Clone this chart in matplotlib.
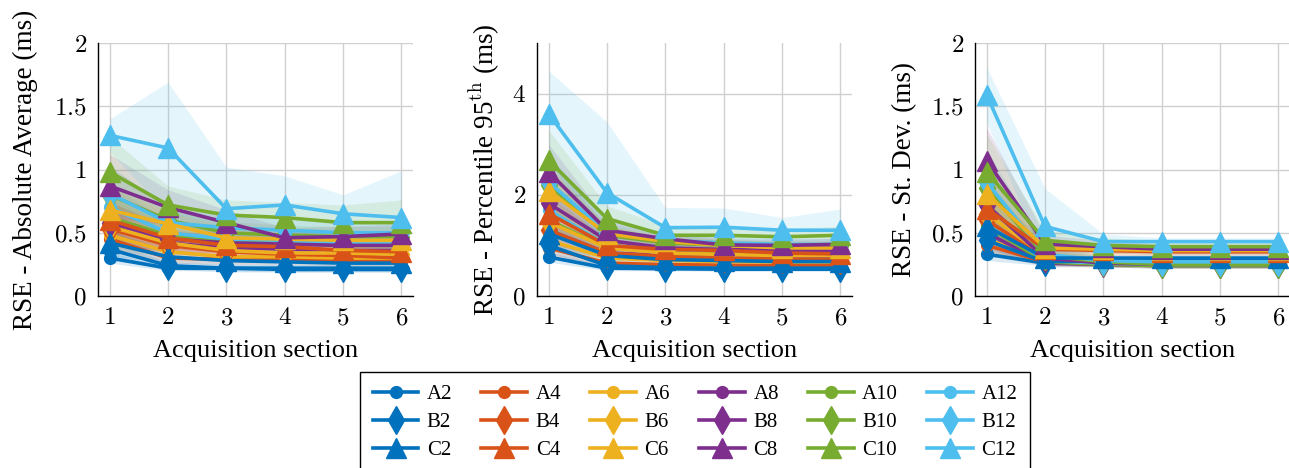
import matplotlib
matplotlib.use("Agg")
import matplotlib.pyplot as plt
from matplotlib.lines import Line2D

plt.rcParams['font.family'] = ['Liberation Serif', 'DejaVu Serif']
plt.rcParams['mathtext.fontset'] = 'cm'

sections = [1, 2, 3, 4, 5, 6]
series_names = ["A2", "A4", "A6", "A8", "A10", "A12",
                "B2", "B4", "B6", "B8", "B10", "B12",
                "C2", "C4", "C6", "C8", "C10", "C12"]

# ---- Panel 1: absolute average (mean) ----
abs_avg = {
    "A2": [0.30, 0.22, 0.22, 0.21, 0.21, 0.21],
    "B2": [0.37, 0.24, 0.22, 0.22, 0.22, 0.22],
    "C2": [0.42, 0.31, 0.28, 0.27, 0.26, 0.26],
    "A4": [0.45, 0.30, 0.29, 0.29, 0.28, 0.28],
    "B4": [0.53, 0.40, 0.35, 0.33, 0.32, 0.30],
    "C4": [0.60, 0.46, 0.40, 0.39, 0.36, 0.35],
    "A6": [0.48, 0.35, 0.31, 0.31, 0.30, 0.30],
    "B6": [0.55, 0.42, 0.36, 0.34, 0.34, 0.33],
    "C6": [0.68, 0.57, 0.46, 0.45, 0.44, 0.44],
    "A8": [0.55, 0.42, 0.38, 0.37, 0.36, 0.36],
    "B8": [0.58, 0.45, 0.42, 0.41, 0.40, 0.40],
    "C8": [0.87, 0.70, 0.58, 0.46, 0.47, 0.49],
    "A10": [0.62, 0.48, 0.44, 0.42, 0.40, 0.40],
    "B10": [0.80, 0.60, 0.50, 0.48, 0.47, 0.47],
    "C10": [0.98, 0.72, 0.64, 0.62, 0.58, 0.58],
    "A12": [0.70, 0.50, 0.45, 0.44, 0.42, 0.42],
    "B12": [0.81, 0.58, 0.54, 0.52, 0.50, 0.50],
    "C12": [1.27, 1.17, 0.69, 0.72, 0.65, 0.62],
}
abs_avg_band = {
    "A2": [0.04, 0.02, 0.02, 0.02, 0.02, 0.02],
    "B2": [0.06, 0.03, 0.03, 0.03, 0.03, 0.03],
    "C2": [0.10, 0.05, 0.04, 0.04, 0.04, 0.04],
    "A4": [0.08, 0.04, 0.04, 0.04, 0.04, 0.04],
    "B4": [0.12, 0.06, 0.05, 0.05, 0.05, 0.05],
    "C4": [0.15, 0.08, 0.06, 0.06, 0.06, 0.06],
    "A6": [0.10, 0.05, 0.04, 0.04, 0.04, 0.04],
    "B6": [0.14, 0.07, 0.06, 0.06, 0.06, 0.06],
    "C6": [0.18, 0.10, 0.08, 0.07, 0.07, 0.07],
    "A8": [0.14, 0.07, 0.06, 0.06, 0.06, 0.06],
    "B8": [0.16, 0.10, 0.08, 0.07, 0.07, 0.07],
    "C8": [0.25, 0.14, 0.10, 0.08, 0.08, 0.08],
    "A10": [0.16, 0.09, 0.07, 0.07, 0.07, 0.07],
    "B10": [0.22, 0.12, 0.09, 0.08, 0.08, 0.08],
    "C10": [0.28, 0.15, 0.12, 0.12, 0.14, 0.18],
    "A12": [0.18, 0.10, 0.08, 0.08, 0.08, 0.08],
    "B12": [0.22, 0.12, 0.09, 0.09, 0.09, 0.09],
    "C12": [0.13, 0.52, 0.33, 0.23, 0.15, 0.37],
}

# ---- Panel 2: 95th percentile ----
p95 = {
    "A2": [0.77, 0.55, 0.54, 0.53, 0.53, 0.53],
    "B2": [1.00, 0.60, 0.56, 0.55, 0.55, 0.55],
    "C2": [1.23, 0.80, 0.72, 0.70, 0.68, 0.68],
    "A4": [0.95, 0.65, 0.62, 0.61, 0.60, 0.60],
    "B4": [1.30, 0.85, 0.78, 0.75, 0.73, 0.72],
    "C4": [1.63, 1.00, 0.92, 0.90, 0.85, 0.83],
    "A6": [1.10, 0.75, 0.70, 0.68, 0.67, 0.67],
    "B6": [1.46, 0.95, 0.85, 0.82, 0.80, 0.80],
    "C6": [2.08, 1.23, 1.08, 1.00, 0.95, 0.95],
    "A8": [1.30, 0.85, 0.80, 0.78, 0.77, 0.77],
    "B8": [1.83, 1.10, 0.95, 0.92, 0.90, 0.90],
    "C8": [2.45, 1.30, 1.13, 1.01, 1.00, 1.02],
    "A10": [1.50, 0.95, 0.88, 0.85, 0.83, 0.83],
    "B10": [2.20, 1.20, 1.05, 1.00, 0.98, 0.98],
    "C10": [2.68, 1.53, 1.20, 1.20, 1.17, 1.20],
    "A12": [1.70, 1.00, 0.92, 0.90, 0.88, 0.88],
    "B12": [2.25, 1.25, 1.10, 1.05, 1.02, 1.02],
    "C12": [3.60, 2.04, 1.35, 1.36, 1.30, 1.30],
}
p95_band = {
    "A2": [0.10, 0.05, 0.04, 0.04, 0.04, 0.04],
    "B2": [0.15, 0.07, 0.05, 0.05, 0.05, 0.05],
    "C2": [0.22, 0.10, 0.07, 0.07, 0.07, 0.07],
    "A4": [0.15, 0.07, 0.05, 0.05, 0.05, 0.05],
    "B4": [0.25, 0.10, 0.08, 0.08, 0.08, 0.08],
    "C4": [0.35, 0.14, 0.10, 0.10, 0.10, 0.10],
    "A6": [0.20, 0.08, 0.06, 0.06, 0.06, 0.06],
    "B6": [0.30, 0.12, 0.09, 0.09, 0.09, 0.09],
    "C6": [0.45, 0.18, 0.12, 0.12, 0.12, 0.12],
    "A8": [0.25, 0.10, 0.08, 0.08, 0.08, 0.08],
    "B8": [0.40, 0.15, 0.10, 0.10, 0.10, 0.10],
    "C8": [0.55, 0.20, 0.13, 0.12, 0.12, 0.12],
    "A10": [0.30, 0.12, 0.09, 0.09, 0.09, 0.09],
    "B10": [0.50, 0.18, 0.12, 0.11, 0.11, 0.11],
    "C10": [0.60, 0.25, 0.20, 0.15, 0.15, 0.18],
    "A12": [0.35, 0.14, 0.10, 0.10, 0.10, 0.10],
    "B12": [0.55, 0.20, 0.14, 0.12, 0.12, 0.12],
    "C12": [0.85, 1.40, 0.40, 0.38, 0.25, 0.42],
}

# ---- Panel 3: standard deviation ----
std_dev = {
    "A2": [0.33, 0.26, 0.26, 0.26, 0.26, 0.26],
    "B2": [0.44, 0.27, 0.28, 0.28, 0.28, 0.28],
    "C2": [0.55, 0.30, 0.30, 0.30, 0.30, 0.30],
    "A4": [0.40, 0.27, 0.25, 0.25, 0.25, 0.25],
    "B4": [0.60, 0.30, 0.27, 0.26, 0.26, 0.26],
    "C4": [0.69, 0.37, 0.36, 0.35, 0.35, 0.35],
    "A6": [0.45, 0.28, 0.26, 0.26, 0.26, 0.26],
    "B6": [0.65, 0.32, 0.28, 0.27, 0.27, 0.27],
    "C6": [0.81, 0.38, 0.37, 0.36, 0.36, 0.36],
    "A8": [0.50, 0.26, 0.25, 0.24, 0.24, 0.24],
    "B8": [0.72, 0.30, 0.26, 0.25, 0.25, 0.25],
    "C8": [1.07, 0.41, 0.39, 0.37, 0.37, 0.37],
    "A10": [0.55, 0.27, 0.25, 0.24, 0.24, 0.24],
    "B10": [0.85, 0.32, 0.27, 0.25, 0.25, 0.25],
    "C10": [0.98, 0.44, 0.40, 0.39, 0.39, 0.39],
    "A12": [0.60, 0.28, 0.26, 0.25, 0.25, 0.25],
    "B12": [0.90, 0.33, 0.28, 0.27, 0.27, 0.27],
    "C12": [1.59, 0.55, 0.43, 0.43, 0.43, 0.43],
}
std_dev_band = {
    "A2": [0.05, 0.02, 0.02, 0.02, 0.02, 0.02],
    "B2": [0.08, 0.03, 0.02, 0.02, 0.02, 0.02],
    "C2": [0.12, 0.04, 0.03, 0.03, 0.03, 0.03],
    "A4": [0.08, 0.03, 0.02, 0.02, 0.02, 0.02],
    "B4": [0.14, 0.04, 0.03, 0.03, 0.03, 0.03],
    "C4": [0.18, 0.05, 0.04, 0.03, 0.03, 0.03],
    "A6": [0.10, 0.03, 0.02, 0.02, 0.02, 0.02],
    "B6": [0.16, 0.04, 0.03, 0.03, 0.03, 0.03],
    "C6": [0.22, 0.06, 0.04, 0.03, 0.03, 0.03],
    "A8": [0.12, 0.03, 0.02, 0.02, 0.02, 0.02],
    "B8": [0.18, 0.05, 0.03, 0.03, 0.03, 0.03],
    "C8": [0.26, 0.07, 0.05, 0.04, 0.04, 0.04],
    "A10": [0.14, 0.03, 0.02, 0.02, 0.02, 0.02],
    "B10": [0.22, 0.06, 0.04, 0.03, 0.03, 0.03],
    "C10": [0.30, 0.08, 0.06, 0.05, 0.05, 0.05],
    "A12": [0.15, 0.04, 0.03, 0.02, 0.02, 0.02],
    "B12": [0.25, 0.06, 0.04, 0.03, 0.03, 0.03],
    "C12": [0.22, 0.30, 0.06, 0.03, 0.03, 0.03],
}

group_colors = {"2": "#0072BD", "4": "#D95319", "6": "#EDB120",
                "8": "#7E2F8E", "10": "#77AC30", "12": "#4DBEEE"}
prefix_markers = {"A": "o", "B": "d", "C": "^"}
prefix_msize = {"A": 8.5, "B": 14, "C": 14}
LW = 2.6

W, H = 1289, 468
fig = plt.figure(figsize=(W / 100, H / 100), dpi=100)

# (data, band, axes left px, ylim, yticks, labels, ylabel, ylabel x (axes frac))
panels = [
    (abs_avg, abs_avg_band, 98, (0, 2), [0, 0.5, 1, 1.5, 2], ["0", "0.5", "1", "1.5", "2"],
     "RSE - Absolute Average (ms)", -0.189),
    (p95, p95_band, 537, (0, 5), [0, 2, 4], ["0", "2", "4"],
     "RSE - Percentile 95$^{\\mathrm{th}}$ (ms)", -0.112),
    (std_dev, std_dev_band, 975, (0, 2), [0, 0.5, 1, 1.5, 2], ["0", "0.5", "1", "1.5", "2"],
     "RSE - St. Dev. (ms)", -0.184),
]

for data, band, left_px, ylim, yticks, yticklabels, ylabel, lx in panels:
    ax = fig.add_axes([left_px / W, (H - 296) / H, 315 / W, 253 / H])
    for name in series_names:
        c = group_colors[name[1:]]
        m = data[name]
        b = band[name]
        lo = [mi - bi for mi, bi in zip(m, b)]
        hi = [mi + bi for mi, bi in zip(m, b)]
        ax.fill_between(sections, lo, hi, color=c, alpha=0.14, linewidth=0, zorder=1)
    for name in series_names:
        c = group_colors[name[1:]]
        ax.plot(sections, data[name], color=c, lw=LW,
                marker=prefix_markers[name[0]], ms=prefix_msize[name[0]],
                markeredgecolor=c, markerfacecolor=c, zorder=3, clip_on=False)
    ax.set_xlim(0.8, 6.2)
    ax.set_ylim(*ylim)
    ax.set_xticks(sections)
    ax.set_xticklabels(["$%d$" % s for s in sections])
    ax.set_yticks(yticks)
    ax.set_yticklabels(["$%s$" % t for t in yticklabels])
    ax.tick_params(axis="x", labelsize=18, length=0, pad=8)
    ax.tick_params(axis="y", labelsize=18, length=0, pad=8)
    ax.grid(True, color="#d0d0d0", lw=1.0, zorder=0)
    ax.set_axisbelow(True)
    for s in ["top", "right"]:
        ax.spines[s].set_visible(False)
    for s in ["left", "bottom"]:
        ax.spines[s].set_color("black")
        ax.spines[s].set_linewidth(1.0)
    ax.set_xlabel("Acquisition section", fontsize=19, labelpad=8)
    ax.set_ylabel(ylabel, fontsize=19.5)
    ax.yaxis.set_label_coords(lx, 0.5)

# legend: ordered column-wise so rows read A, B, C
handles, labels = [], []
for g in ["2", "4", "6", "8", "10", "12"]:
    for p in ["A", "B", "C"]:
        c = group_colors[g]
        handles.append(Line2D([], [], color=c, lw=LW, marker=prefix_markers[p],
                              ms=prefix_msize[p], markerfacecolor=c, markeredgecolor=c))
        labels.append(p + g)
leg = fig.legend(handles, labels, ncol=6, loc="upper center",
                 bbox_to_anchor=(695 / W, 1 - 372 / H), borderaxespad=0,
                 fontsize=15, frameon=True, fancybox=False, edgecolor="black",
                 framealpha=1, handlelength=2.2, handletextpad=0.4,
                 columnspacing=1.4, labelspacing=0.4, borderpad=0.6)
leg.get_frame().set_linewidth(1.0)

fig.savefig("out.png", dpi=100)
